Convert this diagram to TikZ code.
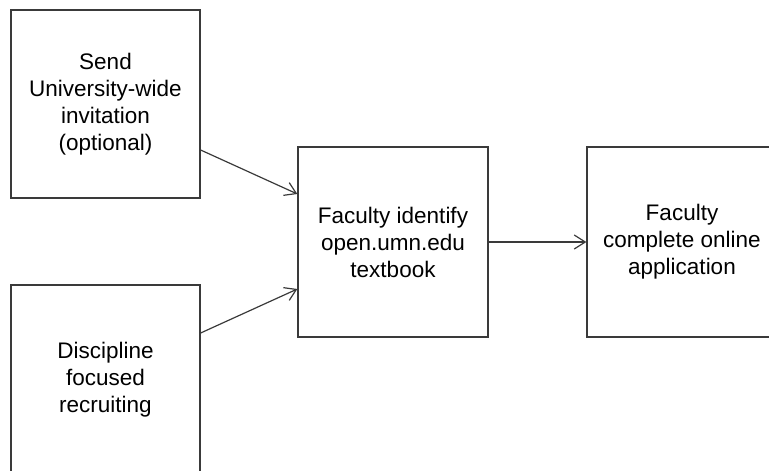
\documentclass[tikz,border=0pt]{standalone}
\usepackage{fontspec}
\setmainfont{Liberation Sans}
\usetikzlibrary{arrows.meta,calc}
\definecolor{edge}{HTML}{3A3A3A}
\tikzset{
  stepbox/.style={draw=edge, line width=1.3pt, rectangle, inner sep=0pt,
    minimum width=189pt, minimum height=189pt, align=center,
    font=\fontsize{22.5}{27}\selectfont},
  conn/.style={draw=edge, line width=1.2pt, -{Straight Barb[length=11pt,width=14pt,line width=1.2pt]}}
}
\begin{document}
\begin{tikzpicture}[x=1pt,y=1pt]
\useasboundingbox (0,0) rectangle (769,-471);
\clip (0,0) rectangle (769,-471);
\node[stepbox, minimum height=188pt] (b1) at (105.5,-104) {Send\\University-wide\\invitation\\(optional)};
\node[stepbox, minimum height=190pt] (b2) at (105.5,-380) {Discipline\\focused\\recruiting};
\node[stepbox, minimum width=190pt, minimum height=190pt] (mid) at (393,-242) {Faculty identify\\open.umn.edu\\textbook};
\node[stepbox, minimum width=190pt, minimum height=190pt] (rt) at (682,-242) {Faculty\\complete online\\application};
\draw[conn] ([yshift=-46pt]b1.east) -- ([yshift=48pt]mid.west);
\draw[conn] ([yshift=47pt]b2.east) -- ([yshift=-47pt]mid.west);
\draw[conn] (mid.east) -- (rt.west);
\end{tikzpicture}
\end{document}
